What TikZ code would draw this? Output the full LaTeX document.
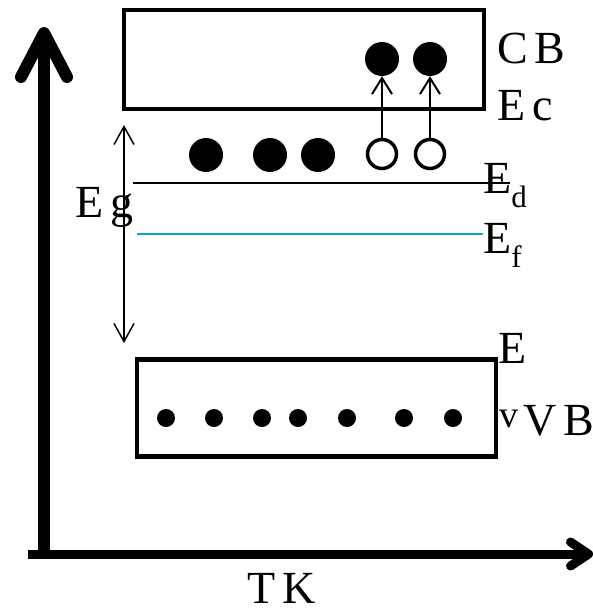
\documentclass[tikz,border=0pt]{standalone}
\usepackage{fontspec}
\setmainfont{Liberation Serif}
\usetikzlibrary{arrows.meta}
\definecolor{fermiblue}{RGB}{16,162,204}
\newcommand{\lowsub}[1]{\raisebox{-0.32em}{\fontsize{31}{33}\selectfont #1}}

\begin{document}
\begin{tikzpicture}[x=1pt,y=-1pt,
  every node/.style={inner sep=0pt},
  band/.style={draw,line width=4.5pt,rectangle},
  lbl/.style={anchor=base west,font=\fontsize{46}{50}\selectfont\addfontfeature{LetterSpace=15}},
  electron/.style={circle,fill=black,minimum size=34pt},
  hole/.style={circle,draw=black,line width=3.5pt,minimum size=29pt},
  dot/.style={circle,fill=black,minimum size=18pt},
  excite/.style={line width=2pt,-{Straight Barb[length=16pt,width=20pt]}},
  gaparrow/.style={line width=1.5pt,{Straight Barb[length=18pt,width=20pt]}-{Straight Barb[length=18pt,width=20pt]}}]
\useasboundingbox (0,0) rectangle (593,613);
% axes
\draw [line width=12pt,-{Straight Barb[round,length=44pt,width=46pt]}] (44,558) -- (44,27);
\draw [line width=9pt,-{Straight Barb[round,length=18pt,width=24pt]}] (28,554) -- (593,554);
\node [lbl] (tk) at (247,603) {TK};
% bands
\node [band,minimum width=360pt,minimum height=99pt] (cb) at (304,59.5) {};
\node [band,minimum width=359pt,minimum height=97pt] (vb) at (316.5,408) {};
\node [lbl] (cblbl) at (497,63) {CB};
\node [lbl] (ec) at (497,120) {Ec};
\node [lbl] (ev) at (498,363) {E};
\node [anchor=base west,font=\fontsize{38}{40}\selectfont] (evsub) at (499,427) {v};
\node [lbl] (vblbl) at (523,435) {VB};
% levels
\draw [line width=1.5pt] (133,183) -- (510,183);
\draw [fermiblue,line width=2.5pt] (137,234) -- (483,234);
\node [lbl] (ed) at (483,193) {E\lowsub{d}};
\node [lbl] (ef) at (483,253) {E\lowsub{f}};
% band gap
\coordinate (gtop) at (124,125);
\coordinate (gbot) at (124,343);
\draw [gaparrow] (gtop) -- (gbot);
\node [lbl] (eg) at (75,217) {Eg};
% donor electrons
\node [electron] (d1) at (206,155) {};
\node [electron] (d2) at (270,155) {};
\node [electron] (d3) at (318,155) {};
\node [hole] (h1) at (382,154) {};
\node [hole] (h2) at (430,154) {};
\node [electron] (e1) at (382,59) {};
\node [electron] (e2) at (430,59) {};
\draw [excite] (h1) -- (e1);
\draw [excite] (h2) -- (e2);
% valence electrons
\foreach \x [count=\i] in {166,214,262,298,347,404,453}
  \node [dot] (v\i) at (\x,418) {};
\end{tikzpicture}
\end{document}
